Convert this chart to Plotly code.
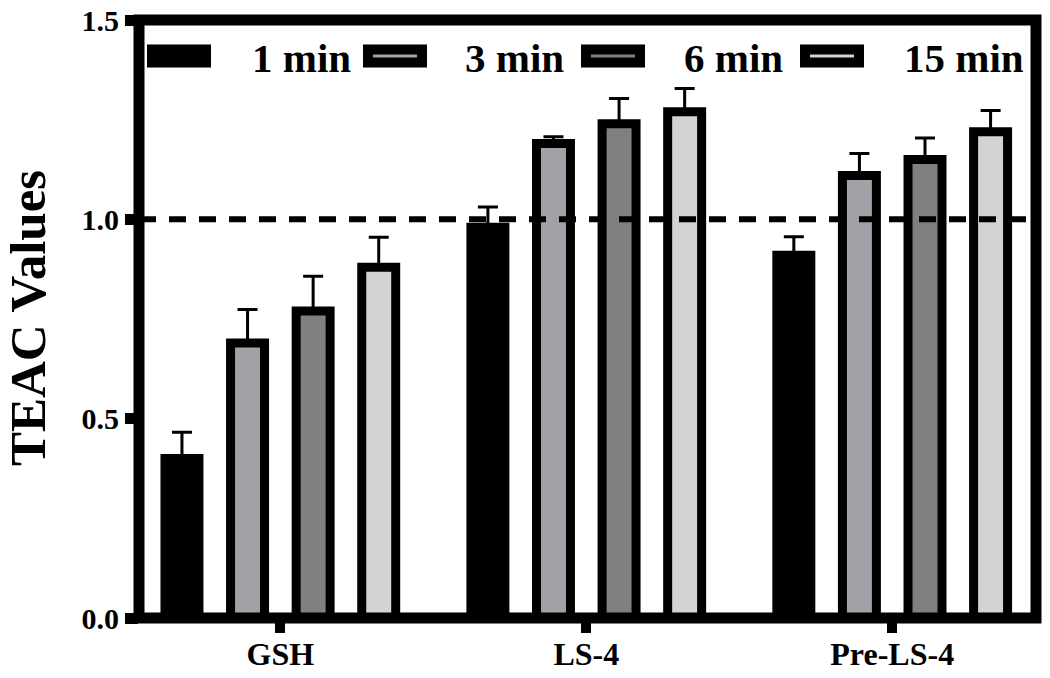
import plotly.graph_objects as go

# ---- data ----
categories = ["GSH", "LS-4", "Pre-LS-4"]
series_names = ["1 min", "3 min", "6 min", "15 min"]
teac_1min = [0.40, 0.98, 0.91]
teac_3min = [0.69, 1.19, 1.11]
teac_6min = [0.77, 1.24, 1.15]
teac_15min = [0.88, 1.27, 1.22]
err_1min = [0.066, 0.051, 0.046]
err_3min = [0.084, 0.017, 0.055]
err_6min = [0.087, 0.063, 0.054]
err_15min = [0.075, 0.058, 0.053]
y_tick_vals = [0.0, 0.5, 1.0, 1.5]
y_tick_text = ["0.0", "0.5", "1.0", "1.5"]
reference_value = 1.0

# ---- style ----
colors = ["#000000", "#a2a1a7", "#808080", "#d3d3d3"]
FONT = "Liberation Serif, Times New Roman, serif"
W, H = 1050, 678
ML, MR, MT, MB = 139, 14, 20, 60
PW, PH = W - ML - MR, H - MT - MB

values = [teac_1min, teac_3min, teac_6min, teac_15min]
errors = [err_1min, err_3min, err_6min, err_15min]

fig = go.Figure()
for name, vals, errs, col in zip(series_names, values, errors, colors):
    fig.add_trace(go.Bar(
        name=name, x=categories, y=vals,
        marker=dict(color=col, line=dict(color="black", width=9)),
        error_y=dict(type="data", array=errs, arrayminus=[0] * len(errs),
                     symmetric=False, color="black", thickness=3, width=10),
        showlegend=False,
    ))

def px_x(p):
    return (p - ML) / PW

def px_y(p):
    return (H - MB - p) / PH

shapes = []
annotations = []
# custom legend (swatches + labels), positioned in pixels
legend_swatch_left = [147, 363, 581, 800]
legend_text_left = [250, 463, 682, 902]
for name, col, sx, tx in zip(series_names, colors, legend_swatch_left, legend_text_left):
    shapes.append(dict(type="rect", xref="paper", yref="paper",
                       x0=px_x(sx + 5), x1=px_x(sx + 59), y0=px_y(62.5), y1=px_y(49.5),
                       fillcolor=col, line=dict(color="black", width=10), layer="above"))
    annotations.append(dict(text="<b>" + name + "</b>", xref="paper", yref="paper",
                            x=px_x(tx), y=px_y(58), xanchor="left", yanchor="middle",
                            showarrow=False, font=dict(family=FONT, size=41, color="black")))

# reference dashed line at 1.0
shapes.append(dict(type="line", xref="paper", yref="y", x0=0, x1=1,
                   y0=reference_value, y1=reference_value,
                   line=dict(color="black", width=6, dash="17px,13px"), layer="above"))
# thick frame
shapes.append(dict(type="rect", xref="paper", yref="paper", x0=0, x1=1, y0=0, y1=1,
                   line=dict(color="black", width=11), layer="above"))

annotations.append(dict(text="<b>TEAC Values</b>", xref="paper", yref="paper",
                        x=px_x(28), y=px_y(318), textangle=-90,
                        xanchor="center", yanchor="middle", showarrow=False,
                        font=dict(family=FONT, size=51, color="black")))

fig.update_layout(
    width=W, height=H,
    margin=dict(l=ML, r=MR, t=MT, b=MB, autoexpand=False),
    paper_bgcolor="white", plot_bgcolor="white",
    barmode="group", bargap=0.1425, bargroupgap=0.482,
    shapes=shapes, annotations=annotations,
    showlegend=False,
    xaxis=dict(range=[-0.462, 2.47], showgrid=False, zeroline=False, showline=False,
               ticks="outside", ticklen=14, tickwidth=10, tickcolor="black",
               ticklabelstandoff=-6,
               tickfont=dict(family=FONT, size=32, color="black"),
               tickvals=categories, ticktext=["<b>%s</b>" % c for c in categories]),
    yaxis=dict(range=[0, 1.5], showgrid=False, zeroline=False, showline=False,
               ticks="outside", ticklen=13, tickwidth=11, tickcolor="black",
               tickvals=y_tick_vals, ticktext=["<b>%s</b>" % t for t in y_tick_text],
               tickfont=dict(family=FONT, size=30, color="black")),
)

fig.write_html("out.html", config={"displayModeBar": False},
               post_script="document.body.style.margin='0';")
